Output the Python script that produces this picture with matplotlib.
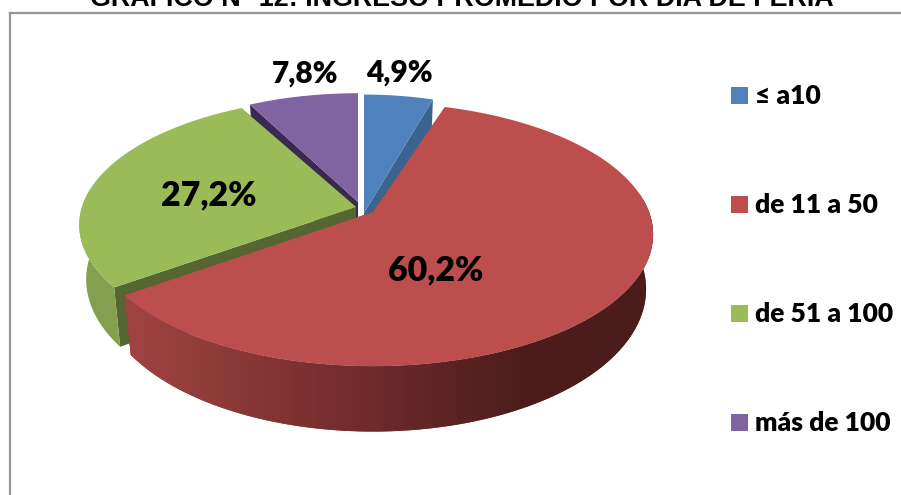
import numpy as np
import matplotlib
matplotlib.use("Agg")
import matplotlib.pyplot as plt
from matplotlib.patches import Rectangle, Polygon

categories = ["≤ a10", "de 11 a 50", "de 51 a 100", "más de 100"]
shares = [4.9, 60.2, 27.2, 7.8]
share_labels = ["4,9%", "60,2%", "27,2%", "7,8%"]
title = "GRÁFICO N° 12: INGRESO PROMEDIO POR DÍA DE FERIA"

top_colors = ["#4f81bd", "#bc4f4d", "#9bbb59", "#8064a2"]
cut_colors = ["#3b6491", "#8a3a38", "#556631", "#3a2a52"]
side_colors = ["#3b6491", "#8a3a38", "#839f4f", "#5f4a7a"]

# the pie is laid out in pixels of the 901x495 picture
W, H = 901, 495
SX, SY, DROP = 0.975, 1.08, 53.0
apexes = [(364, 213), (373, 212), (356, 207), (358, 202)]
# half width, half height, perspective of each slice
shapes = [(258, 135, 0.14), (276, 128, 0.17), (274, 126, 0.14), (258, 124, 0.14)]
label_pos = [(399, 73), (436, 270), (209, 195), (305, 74)]
label_size = [21.5, 24.5, 24.5, 21.5]
legend_y = [95, 204, 313, 422]


def project(deg, i, bottom=False):
    # angle clockwise from 12 o'clock, with a little perspective
    t = np.deg2rad(deg)
    u, v = np.sin(t), np.cos(t)
    a, b, k = shapes[i]
    w = 1 + k * v
    x = a * u / w
    y = -b * v / w
    if bottom:
        x = x * SX
        y = y * SY + DROP
    return apexes[i][0] + x, apexes[i][1] + y


def apex_point(i, bottom=False):
    if bottom:
        return apexes[i][0], apexes[i][1] + DROP
    return apexes[i]


def red_ramp():
    # side of the big slice gets darker going right
    xs = np.arange(120, 665)
    r = np.interp(xs, [130, 360, 520, 660], [160, 112, 76, 74])
    g = np.interp(xs, [130, 360, 520, 660], [68, 44, 29, 28])
    b = np.interp(xs, [130, 360, 520, 660], [66, 43, 28, 27])
    return np.dstack([r, g, b])[0:1] / 255


def draw_slice(ax, i, a0, a1, z):
    deg = np.linspace(a0, a1, 240)

    for edge in (a0, a1):
        ex, ey = project(edge, i)
        fx, fy = project(edge, i, bottom=True)
        px, py = apex_point(i)
        qx, qy = apex_point(i, bottom=True)
        ax.fill([px, ex, fx, qx], [py, ey, fy, qy], color=cut_colors[i], lw=0, zorder=z)

    # outer wall, only the part facing us
    front = deg[np.cos(np.deg2rad(deg)) < 0.15]
    if len(front) > 1:
        upper = [project(d, i) for d in front]
        lower = [project(d, i, bottom=True) for d in front[::-1]]
        wall = Polygon(upper + lower, closed=True, facecolor=side_colors[i], lw=0, zorder=z + 0.1)
        ax.add_patch(wall)
        if i == 1:
            img = ax.imshow(red_ramp(), extent=(120, 665, 440, 200), aspect="auto", zorder=z + 0.2)
            img.set_clip_path(wall)

    pts = [project(d, i) for d in deg]
    xs = [apexes[i][0]] + [p[0] for p in pts]
    ys = [apexes[i][1]] + [p[1] for p in pts]
    ax.fill(xs, ys, color=top_colors[i], lw=0, zorder=z + 0.3)


fig = plt.figure(figsize=(W / 100, H / 100), dpi=100, facecolor="white")
ax = fig.add_axes([0, 0, 1, 1])

# chart frame
ax.plot([9.5, W], [12.5, 12.5], color="#969696", lw=1.6, zorder=0)
ax.plot([9.5, 9.5], [12.5, H], color="#969696", lw=1.6, zorder=0)

fractions = np.array(shares) / sum(shares)
edges = np.concatenate([[0], np.cumsum(fractions)]) * 360

# back slices first, red goes last so it covers the others
for z, i in enumerate([0, 3, 2, 1]):
    draw_slice(ax, i, edges[i], edges[i + 1], z + 1)

for i, txt in enumerate(share_labels):
    ax.text(label_pos[i][0], label_pos[i][1], txt, ha="center", va="center",
            family="Lato", weight="heavy", fontsize=label_size[i], color="black", zorder=30)

for name, col, y in zip(categories, top_colors, legend_y):
    ax.add_patch(Rectangle((731, y - 8.5), 17, 17, facecolor=col, edgecolor="none", zorder=30))
    ax.text(755, y + 1, name, ha="left", va="center", family=["Lato", "DejaVu Sans"], weight="heavy",
            fontsize=19, color="black", zorder=30)

ax.text(462, 6, title, ha="center", va="baseline", family="Liberation Sans", weight="bold",
        fontsize=19.35, color="black", zorder=30)

ax.set_xlim(0, W)
ax.set_ylim(H, 0)
ax.axis("off")

fig.savefig("out.png", dpi=100)
